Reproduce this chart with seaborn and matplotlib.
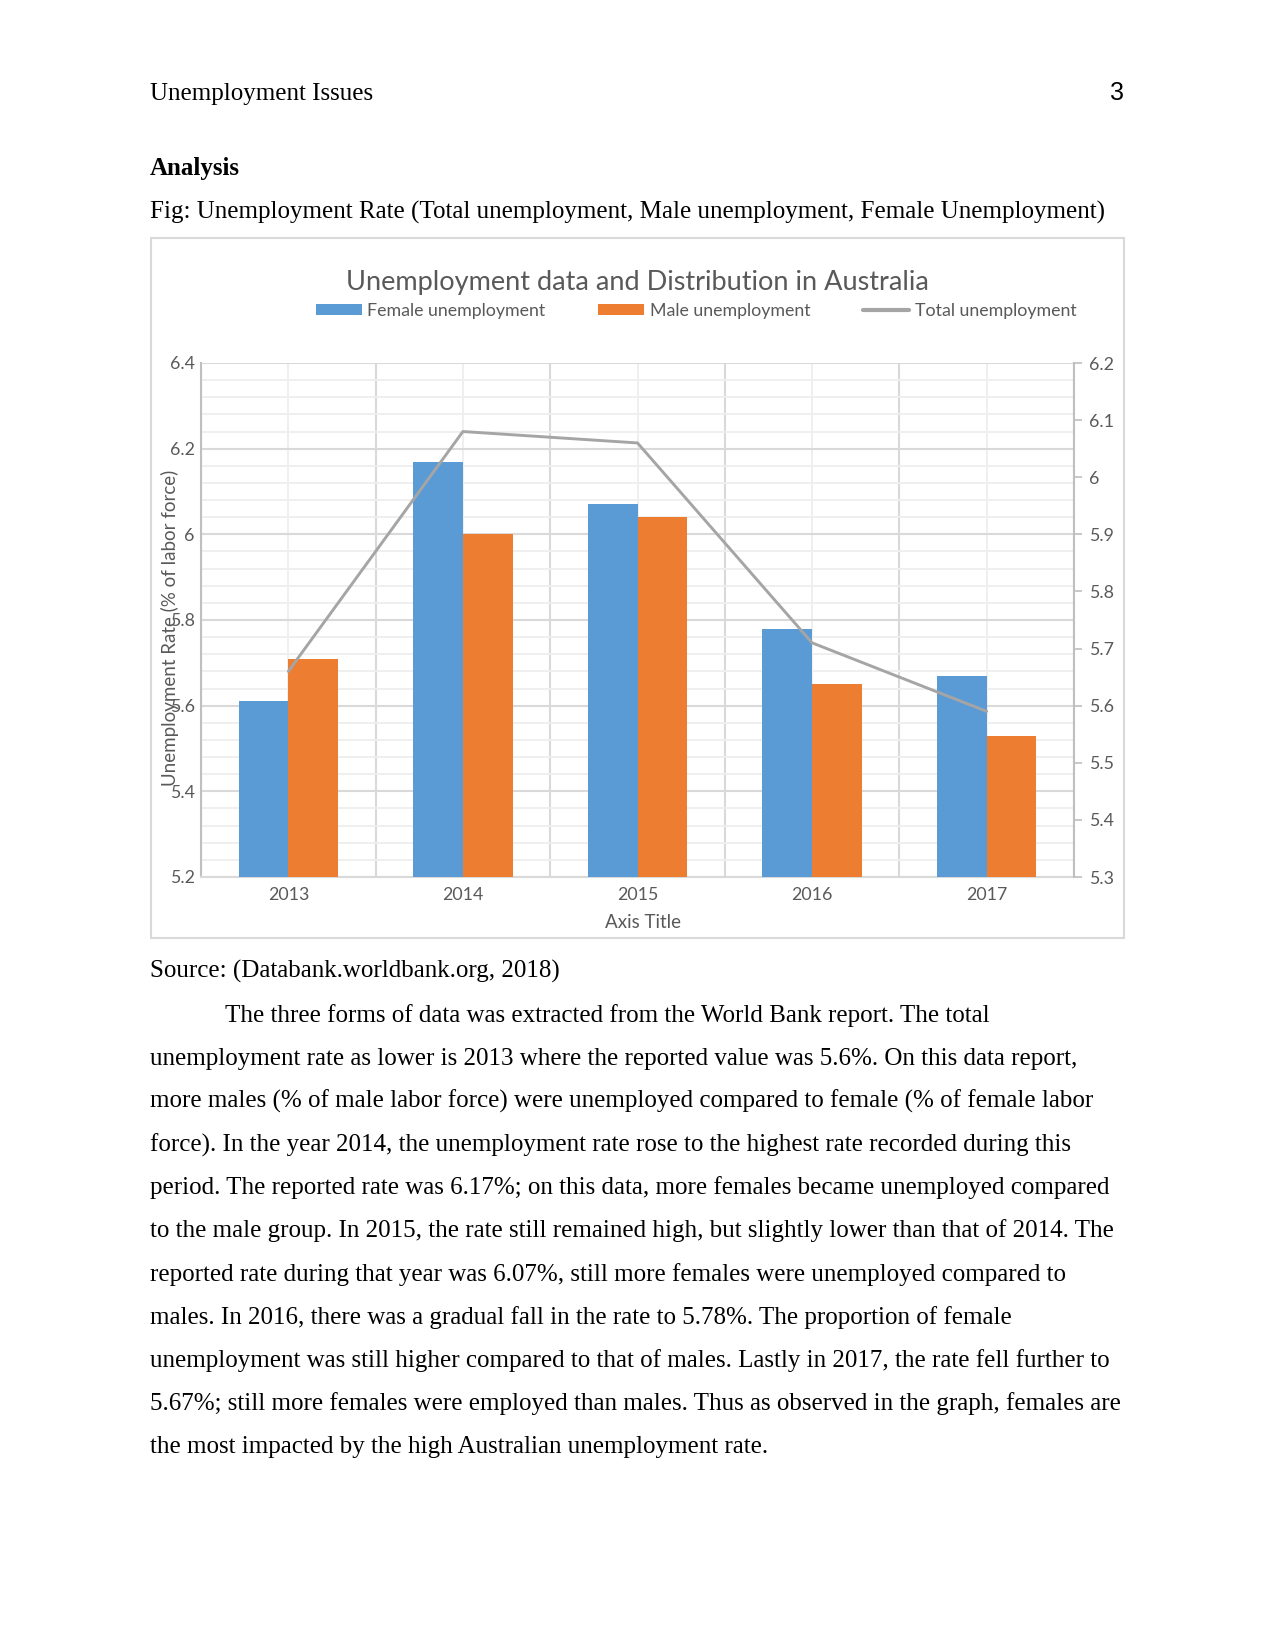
import numpy as np
import pandas as pd
import matplotlib
matplotlib.use("Agg")
import matplotlib.pyplot as plt
import seaborn as sns
from matplotlib.patches import Patch, Rectangle
from matplotlib.lines import Line2D
from matplotlib.ticker import MultipleLocator, FuncFormatter, FixedLocator

# ---------------- data ----------------
years = ["2013", "2014", "2015", "2016", "2017"]
female = [5.61, 6.17, 6.07, 5.78, 5.67]
male = [5.71, 6.00, 6.04, 5.65, 5.53]
total = [5.66, 6.08, 6.06, 5.71, 5.59]
series_names = ["Female unemployment", "Male unemployment", "Total unemployment"]
colors = ["#5B9BD5", "#ED7D31", "#A5A5A5"]

chart_title = "Unemployment data and Distribution in Australia"
y_label = "Unemployment Rate (% of labor force)"
x_label = "Axis Title"

header_left = "Unemployment Issues"
header_right = "3"
section = "Analysis"
fig_caption = "Fig: Unemployment Rate (Total unemployment, Male unemployment, Female Unemployment)"
source = "Source: (Databank.worldbank.org, 2018)"
paragraph = [
    "The three forms of data was extracted from the World Bank report. The total",
    "unemployment rate as lower is 2013 where the reported value was 5.6%. On this data report,",
    "more males (% of male labor force) were unemployed compared to female (% of female labor",
    "force). In the year 2014, the unemployment rate rose to the highest rate recorded during this",
    "period. The reported rate was 6.17%; on this data, more females became unemployed compared",
    "to the male group. In 2015, the rate still remained high, but slightly lower than that of 2014. The",
    "reported rate during that year was 6.07%, still more females were unemployed compared to",
    "males. In 2016, there was a gradual fall in the rate to 5.78%. The proportion of female",
    "unemployment was still higher compared to that of males. Lastly in 2017, the rate fell further to",
    "5.67%; still more females were employed than males. Thus as observed in the graph, females are",
    "the most impacted by the high Australian unemployment rate.",
]

# ---------------- figure ----------------
sns.set_theme(style="white")
plt.rcParams["font.family"] = ["Lato", "DejaVu Sans"]

W, H = 1275, 1651
fig = plt.figure(figsize=(W / 150, H / 150), dpi=150)
fig.patch.set_facecolor("white")

def fx(px):
    return px / W

def fy(py):
    return 1 - py / H

serif = ["Liberation Serif", "DejaVu Serif"]
txt_col = "#595959"
dy = 2.7

# page text
fig.text(fx(150), fy(97 + dy), header_left, family=serif, fontsize=12, color="black", va="baseline")
fig.text(fx(1124), fy(97 + dy), header_right, family=["Liberation Sans", "DejaVu Sans"], fontsize=12,
         color="black", va="baseline", ha="right")
fig.text(fx(150), fy(172.5 + dy), section, family=serif, fontsize=12, weight="bold", color="black", va="baseline")
fig.text(fx(150), fy(216 + dy), fig_caption, family=serif, fontsize=12, color="black", va="baseline")
fig.text(fx(150), fy(975 + dy), source, family=serif, fontsize=12, color="black", va="baseline")
for i, line in enumerate(paragraph):
    x0 = 225 if i == 0 else 150
    fig.text(fx(x0), fy(1019 + dy + 43.16 * i), line, family=serif, fontsize=12, color="black", va="baseline")

# chart border
fig.patches.append(Rectangle((fx(150.5), fy(938)), fx(1124) - fx(150.5), fy(238) - fy(938),
                             transform=fig.transFigure, fill=False, edgecolor="#d9d9d9", lw=1.0))

# axes
left, right, top, bottom = 201, 1074, 363, 877
ax = fig.add_axes([fx(left), fy(bottom), fx(right) - fx(left), fy(top) - fy(bottom)])

df = pd.DataFrame({
    "Year": years * 2,
    "Rate": female + male,
    "Series": [series_names[0]] * len(years) + [series_names[1]] * len(years),
})
sns.barplot(data=df, x="Year", y="Rate", hue="Series", palette=colors[:2], width=0.57,
            saturation=1, ax=ax, legend=False, zorder=3, linewidth=0, edgecolor="none")

ax.set_ylim(5.2, 6.4)
ax.set_xlim(-0.5, len(years) - 0.5)
ax.yaxis.set_major_locator(MultipleLocator(0.2))
ax.yaxis.set_minor_locator(MultipleLocator(0.04))
ax.yaxis.set_major_formatter(FuncFormatter(lambda v, p: f"{round(v, 2):g}"))
ax.xaxis.set_minor_locator(FixedLocator(np.arange(len(years) + 1) - 0.5))
ax.grid(which="major", axis="y", color="#d9d9d9", lw=1.0, zorder=0)
ax.grid(which="minor", axis="y", color="#efefef", lw=0.9, zorder=0)
ax.grid(which="minor", axis="x", color="#d9d9d9", lw=1.0, zorder=0)
ax.grid(which="major", axis="x", color="#efefef", lw=0.9, zorder=0)
ax.set_axisbelow(True)
ax.tick_params(axis="both", which="both", length=0)
ax.tick_params(axis="y", labelsize=8.5, labelcolor=txt_col, pad=3)
ax.tick_params(axis="x", labelsize=8.5, labelcolor=txt_col, pad=5)
for s in ["top", "right"]:
    ax.spines[s].set_visible(False)
ax.spines["left"].set_color("#bfbfbf")
ax.spines["left"].set_linewidth(1.0)
ax.spines["bottom"].set_color("#d9d9d9")
ax.spines["bottom"].set_linewidth(1.0)

ax.set_xlabel(x_label, fontsize=9, color=txt_col)
ax.xaxis.set_label_coords((643 - left) / (right - left), (bottom - 922) / (bottom - top))
ax.xaxis.label.set_va("center")
ax.set_ylabel(y_label, fontsize=9, color=txt_col)
ax.yaxis.set_label_coords((170 - left) / (right - left), (bottom - 628) / (bottom - top))
ax.yaxis.label.set_va("center")

# twin axis for total line
ax2 = ax.twinx()
sns.lineplot(x=np.arange(len(years)), y=total, ax=ax2, color=colors[2], lw=1.4, zorder=5)
ax2.set_ylim(5.3, 6.2)
ax2.set_xlim(-0.5, len(years) - 0.5)
ax2.yaxis.set_major_locator(MultipleLocator(0.1))
ax2.yaxis.set_major_formatter(FuncFormatter(lambda v, p: f"{round(v, 2):g}"))
ax2.tick_params(axis="y", direction="out", length=3.8, width=0.8, color="#bfbfbf",
                labelsize=8.5, labelcolor=txt_col, pad=3.2)
for s in ["top", "left", "bottom"]:
    ax2.spines[s].set_visible(False)
ax2.spines["right"].set_color("#bfbfbf")
ax2.spines["right"].set_linewidth(1.0)
ax2.grid(False)
ax2.set_ylabel("")

# title
fig.text(fx(637), fy(290), chart_title, fontsize=13, color=txt_col, ha="center", va="baseline")

# legend
handles = [Patch(facecolor=colors[0], edgecolor="none"),
           Patch(facecolor=colors[1], edgecolor="none"),
           Line2D([0], [0], color=colors[2], lw=2)]
leg = fig.legend(handles, series_names, loc="center", bbox_to_anchor=(fx(696), fy(311)), ncol=3,
                 frameon=False, fontsize=8.5, labelcolor=txt_col, handlelength=2.6, handleheight=0.6,
                 handletextpad=0.3, columnspacing=3.0, borderaxespad=0, borderpad=0)

fig.savefig("out.png", dpi=150, facecolor="white")
